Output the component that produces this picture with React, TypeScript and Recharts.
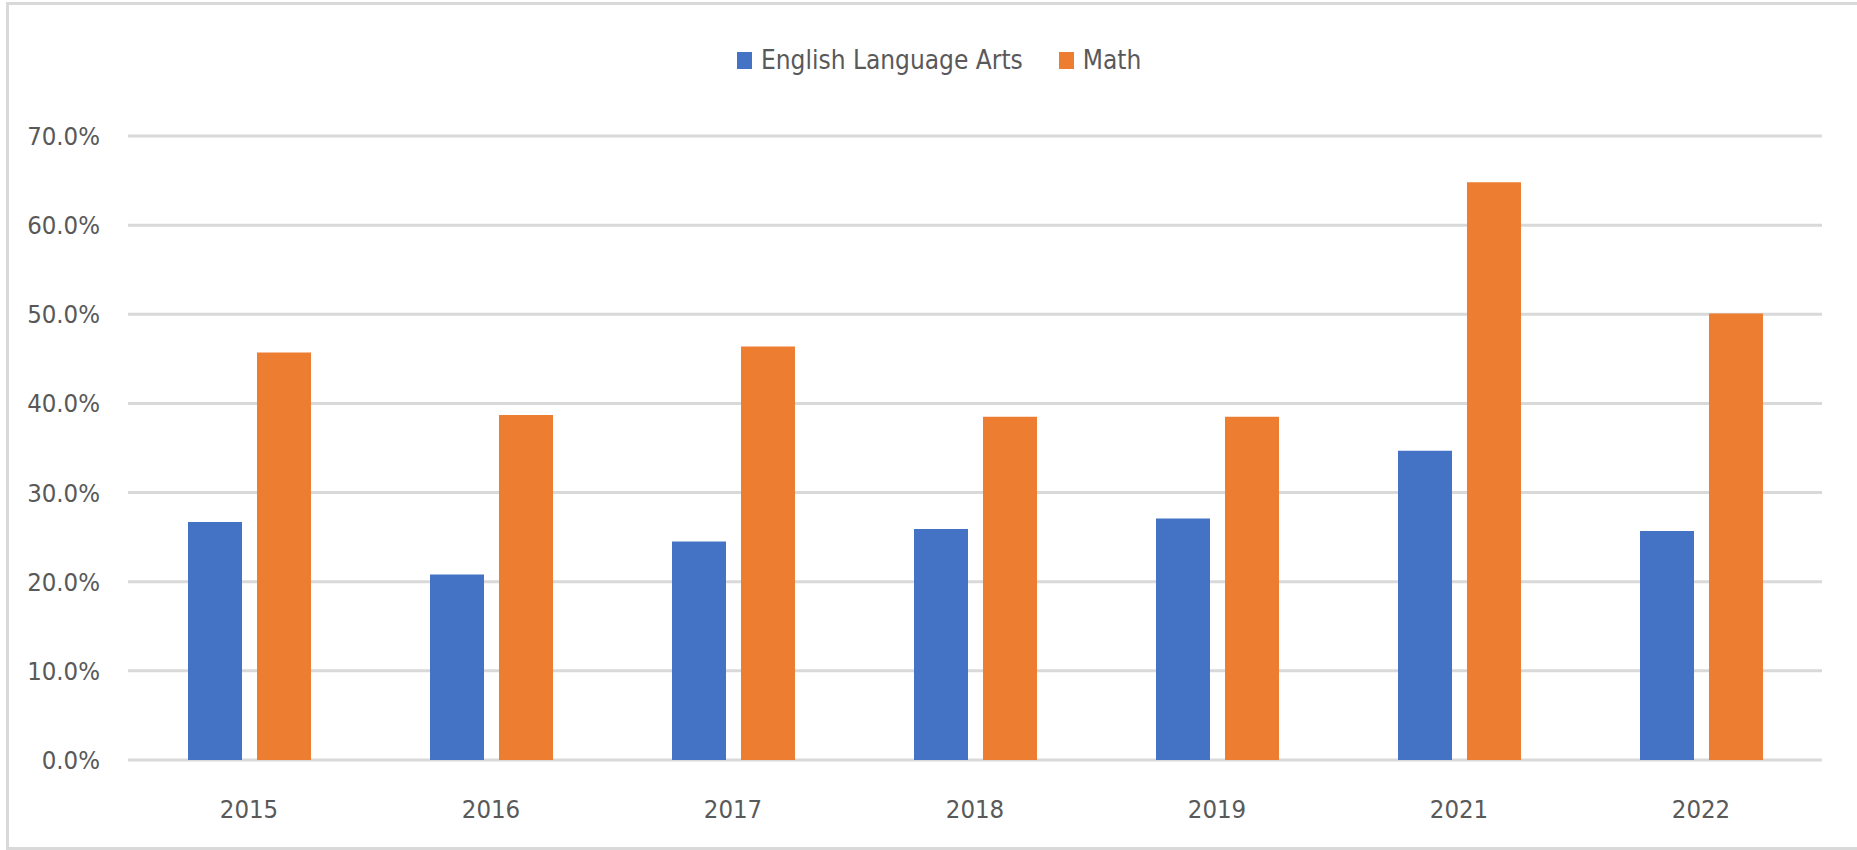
import { Bar, BarChart, CartesianGrid, Legend, XAxis, YAxis } from "recharts";

const years = ["2015", "2016", "2017", "2018", "2019", "2021", "2022"];
const elaValues = [26.7, 20.8, 24.5, 25.9, 27.1, 34.7, 25.7];
const mathValues = [45.7, 38.7, 46.4, 38.5, 38.5, 64.8, 50.1];
const yTicks = [0, 10, 20, 30, 40, 50, 60, 70];

const data = years.map((year, i) => ({
  year,
  ela: elaValues[i],
  math: mathValues[i],
}));

const FONT = "'Liberation Sans Narrow', 'DejaVu Sans Condensed', 'Open Sans', sans-serif";
const TEXT = "#595959";
const BLUE = "#4472C4";
const ORANGE = "#ED7D31";

if (typeof document !== "undefined") document.body.style.margin = "0";

function TopLegend() {
  const items = [
    { label: "English Language Arts", color: BLUE },
    { label: "Math", color: ORANGE },
  ];
  return (
    <div style={{ height: 96, width: 1857, display: "flex", alignItems: "flex-start", paddingLeft: 737, boxSizing: "border-box" }}>
      {items.map((item, i) => (
        <div key={item.label} style={{ display: "flex", alignItems: "center", height: 40, marginRight: i === 0 ? 36 : 0 }}>
          <span style={{ width: 15, height: 17, background: item.color, display: "inline-block", marginRight: 9 }} />
          <span style={{ fontFamily: FONT, fontSize: 26, color: TEXT, lineHeight: "40px" }}>{item.label}</span>
        </div>
      ))}
    </div>
  );
}

export default function App() {
  return (
    <div style={{ position: "relative", width: 1857, height: 850, background: "#fff", overflow: "hidden" }}>
      <div
        style={{
          position: "absolute",
          left: 6,
          top: 2,
          width: 1856,
          height: 848,
          border: "3px solid #d9d9d9",
          boxSizing: "border-box",
        }}
      />
      <div style={{ position: "absolute", left: 0, top: 0 }}>
        <BarChart
          width={1857}
          height={850}
          data={data}
          margin={{ top: 40, right: 35, left: 0, bottom: 0 }}
          barGap={15}
        >
          <CartesianGrid vertical={false} stroke="#d9d9d9" strokeWidth={3} />
          <Legend
            verticalAlign="top"
            wrapperStyle={{ left: 0, top: 40, width: 1857 }}
            content={() => <TopLegend />}
          />
          <XAxis
            dataKey="year"
            axisLine={false}
            tickLine={false}
            height={90}
            tickMargin={34}
            tick={{ fill: TEXT, fontSize: 25.5, fontFamily: FONT }}
          />
          <YAxis
            domain={[0, 70]}
            ticks={yTicks}
            width={128}
            axisLine={false}
            tickLine={false}
            tickMargin={22}
            tickFormatter={(v: number) => `${v.toFixed(1)}%`}
            tick={{ fill: TEXT, fontSize: 25.5, fontFamily: FONT }}
          />
          <Bar dataKey="ela" name="English Language Arts" fill={BLUE} barSize={54} isAnimationActive={false} />
          <Bar dataKey="math" name="Math" fill={ORANGE} barSize={54} isAnimationActive={false} />
        </BarChart>
      </div>
    </div>
  );
}
